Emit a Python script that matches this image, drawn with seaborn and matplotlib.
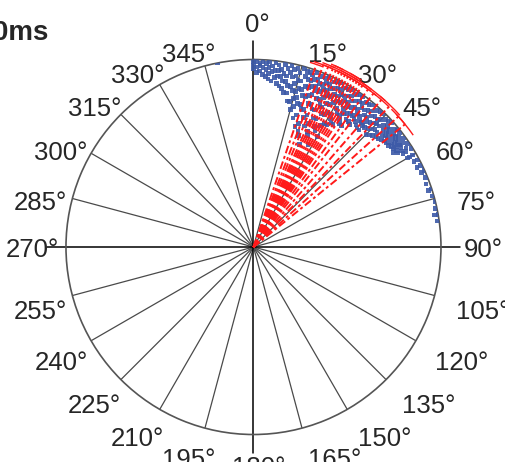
import numpy as np
import pandas as pd
import matplotlib
matplotlib.use('Agg')
import matplotlib.pyplot as plt
import matplotlib.transforms as mtransforms
import seaborn as sns

sns.set_style('white')
plt.rcParams['font.family'] = ['Liberation Sans', 'DejaVu Sans']

# blue trials: angle (deg) -> radii of the points at that angle
blue_angle = [349, 0, 1, 2, 3, 4, 5, 6, 7, 8, 9, 10, 11, 12, 13, 14, 15, 16, 17, 18, 19,
              20, 21, 22, 23, 24, 25, 26, 27, 28, 29, 30, 31, 32, 33, 34, 35, 36, 37,
              38, 39, 40, 41, 42, 43, 44, 45, 46, 47, 48, 49, 50, 51, 52, 53, 54, 55,
              56, 57, 58, 60, 62, 64, 66, 68, 70, 72, 74, 76, 78, 80, 82]
blue_radius = [
    [1.0], [0.99, 0.97, 0.95], [0.99, 0.96, 0.93], [0.98, 0.94, 0.97], [0.99, 0.96, 0.92],
    [0.98, 0.95, 0.91], [0.99, 0.93, 0.9, 0.96], [0.97, 0.94, 0.89], [0.99, 0.91, 0.95],
    [0.98, 0.95, 0.88, 0.92], [0.96, 0.92, 0.87], [0.99, 0.94, 0.86, 0.9],
    [0.97, 0.9, 0.93, 0.84], [0.99, 0.95, 0.84, 0.88], [0.93, 0.88, 0.97, 0.8],
    [0.98, 0.9, 0.8, 0.94, 0.86], [0.96, 0.86, 0.76, 0.92, 0.82],
    [0.99, 0.92, 0.83, 0.88, 0.78], [0.95, 0.88, 0.72, 0.98, 0.8],
    [0.98, 0.9, 0.8, 0.94, 0.85, 0.74], [0.94, 0.85, 0.68, 0.97, 0.9, 0.78],
    [0.99, 0.91, 0.78, 0.95, 0.86, 0.7], [0.96, 0.87, 0.74, 0.92, 0.82, 0.66],
    [0.98, 0.9, 0.82, 0.64, 0.94, 0.76], [0.94, 0.86, 0.7, 0.98, 0.9, 0.8],
    [0.99, 0.92, 0.8, 0.6, 0.96, 0.86, 0.72], [0.96, 0.88, 0.76, 0.92, 0.84, 0.68],
    [0.98, 0.9, 0.83, 0.66, 0.94, 0.76], [0.95, 0.86, 0.72, 0.99, 0.9, 0.8],
    [0.99, 0.92, 0.8, 0.62, 0.96, 0.86, 0.7], [0.96, 0.88, 0.74, 0.92, 0.82],
    [0.98, 0.9, 0.82, 0.68, 0.94, 0.76], [0.94, 0.86, 0.76, 0.98, 0.9, 0.8],
    [0.99, 0.92, 0.84, 0.95, 0.78], [0.96, 0.88, 0.78, 0.92, 0.84],
    [0.98, 0.9, 0.82, 0.94, 0.86], [0.95, 0.87, 0.8, 0.99, 0.91],
    [0.99, 0.92, 0.84, 0.96, 0.88, 0.8], [0.96, 0.88, 0.92, 0.84],
    [0.98, 0.9, 0.83, 0.94, 0.87], [0.94, 0.86, 0.98, 0.9], [0.99, 0.92, 0.85, 0.95, 0.88],
    [0.96, 0.88, 0.92, 0.84], [0.98, 0.9, 0.84, 0.94, 0.87], [0.95, 0.87, 0.99, 0.91],
    [0.99, 0.92, 0.95, 0.88], [0.96, 0.89, 0.93, 0.85], [0.98, 0.93, 0.86, 0.9],
    [0.95, 0.9, 0.98, 0.87], [0.99, 0.93, 0.88, 0.96], [0.96, 0.91, 0.94, 0.88],
    [0.98, 0.94, 0.89, 0.92], [0.96, 0.92, 0.99, 0.9], [0.99, 0.94, 0.9, 0.96],
    [0.97, 0.92, 0.95, 0.9], [0.99, 0.95, 0.91, 0.93], [0.97, 0.93, 0.91, 0.95],
    [0.99, 0.95, 0.92, 0.9], [0.97, 0.94, 0.92], [0.99, 0.96, 0.94], [0.98, 0.96, 0.95],
    [0.99, 0.97], [0.99, 0.97], [0.98, 1.0], [0.99], [0.98], [1.0, 0.98], [0.99],
    [1.0], [0.99], [1.0, 0.98], [0.99]]

# red mean directions with angular error
red_angle = [19, 21, 22.5, 24, 25, 26, 27, 28, 29, 30, 31, 32, 33, 34, 36, 38, 41, 44, 48, 51]
red_radius = [1.03, 1.04, 1.05, 1.04, 1.06, 1.05, 1.04, 1.06, 1.05, 1.04, 1.06, 1.05,
              1.04, 1.05, 1.04, 1.05, 1.04, 1.05, 1.04, 1.04]
red_err = [2, 3, 2, 3, 2, 3, 2, 4, 3, 3, 2, 3, 4, 3, 3, 4, 3, 4, 3, 4]

tick_angles = list(range(0, 360, 15))
tick_labels = [f'{a}°' for a in tick_angles]
title = '100ms'

rows = [(a, r) for a, rs in zip(blue_angle, blue_radius) for r in rs]
blue = pd.DataFrame(rows, columns=['deg', 'r'])
blue['theta'] = np.deg2rad(blue['deg'])

fig = plt.figure(figsize=(5.06, 4.62), dpi=100)
ax = fig.add_axes([0.1304, 0.0595, 0.7411, 0.8117], projection='polar')
ax.set_theta_zero_location('N')
ax.set_theta_direction(-1)
ax.set_ylim(0, 1)
ax.set_yticks([])
ax.set_xticks(np.deg2rad(tick_angles))
ax.set_xticklabels([])
ax.tick_params(length=0)
ax.grid(True, color='#4a4a4a', lw=0.9)
for a, gl in zip(tick_angles, ax.xaxis.get_gridlines()):
    if a % 90 == 0:
        gl.set_visible(False)
ax.spines['polar'].set_color('#555555')
ax.spines['polar'].set_linewidth(1.2)

# main axes drawn past the rim
for a in (0, 90, 180, 270):
    ax.plot([np.deg2rad(a)] * 2, [0, 1.1], color='black', lw=1.1, clip_on=False, zorder=1)

sns.scatterplot(data=blue, x='theta', y='r', ax=ax, marker='s', s=11, color='#3d5aa8',
                edgecolor='none', linewidth=0, alpha=0.9, zorder=3)
ax.set_xlabel('')
ax.set_ylabel('')

for a, r in zip(red_angle, red_radius):
    t = np.deg2rad(a)
    ax.plot([t, t], [0, r], color='#ff1a1a', ls=(0, (4, 1.5, 1.5, 1.5)), lw=1.4,
            clip_on=False, zorder=4)
eb = ax.errorbar(np.deg2rad(red_angle), red_radius, xerr=np.deg2rad(red_err), fmt='none',
                 ecolor='#ff1a1a', elinewidth=1.0, capsize=4, capthick=1.2, zorder=5)
for child in eb.get_children():
    child.set_clip_on(False)

for a, lab in zip(tick_angles, tick_labels):
    t = np.deg2rad(a)
    if a == 0:
        ha, va, dx, dy = 'center', 'bottom', 4, 0
    elif a == 180:
        ha, va, dx, dy = 'center', 'center_baseline', 5, -8
    elif a < 180:
        ha, va, dx, dy = 'left', 'center_baseline', 0, (0 if a == 90 else -8)
    else:
        ha, va, dx, dy = 'right', 'center_baseline', 16, (0 if a == 270 else -8)
    tr = mtransforms.offset_copy(ax.transData, fig=fig, x=dx, y=dy, units='dots')
    ax.text(t, 1.12, lab, ha=ha, va=va, fontsize=18.5, transform=tr, clip_on=False)

fig.text(49 / 506, 1 - 40 / 462, title, ha='right', va='baseline', fontsize=20,
         fontweight='bold')

fig.savefig('out.png', dpi=100)
